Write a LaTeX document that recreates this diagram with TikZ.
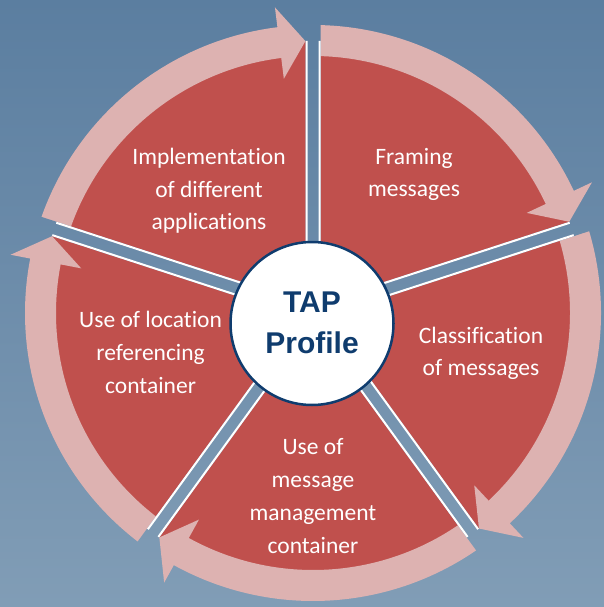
\documentclass[tikz,border=0pt]{standalone}
\usepackage{fontspec}
\usepackage{tikz}
\usetikzlibrary{calc}
\setmainfont{Carlito}[Ligatures=CommonOff]
\newfontfamily\tapfont{Liberation Sans}

\definecolor{bgtop}{HTML}{5B7EA0}
\definecolor{bgbottom}{HTML}{819DB6}
\definecolor{sectorred}{HTML}{C0504D}
\definecolor{ringpink}{HTML}{DDB2B1}
\definecolor{tapblue}{HTML}{0F3C6E}

\tikzset{
    bgshade/.style={top color=bgtop, bottom color=bgbottom},
    ringarrow/.style={fill=ringpink},
    gapline/.style={white, line width=2pt},
    sectorlabel/.style={text=white, align=center, font=\fontsize{23.5}{32.7}\selectfont},
}

\begin{document}
\begin{tikzpicture}[x=1pt, y=1pt]
    \useasboundingbox (0,0) rectangle (604,-607);
    \shade[bgshade] (0,0) rectangle (604,-607);

    \begin{scope}[shift={(313,-313)}]
        % red pie
        \fill[sectorred] (0,0) circle[radius=272];

        % pink arrows, clockwise
        \fill[ringarrow] (162:288) arc[start angle=162, end angle=97.1, radius=288] -- (97.1:308) -- (91.6:272) -- (97.1:236) -- (97.1:257) arc[start angle=97.1, end angle=162, radius=257] -- cycle;
        \fill[ringarrow] (90:288) arc[start angle=90, end angle=25.1, radius=288] -- (25.1:308) -- (19.6:272) -- (25.1:236) -- (25.1:257) arc[start angle=25.1, end angle=90, radius=257] -- cycle;
        \fill[ringarrow] (18:288) arc[start angle=18, end angle=-46.9, radius=288] -- (-46.9:308) -- (-52.4:272) -- (-46.9:236) -- (-46.9:257) arc[start angle=-46.9, end angle=18, radius=257] -- cycle;
        \fill[ringarrow] (-54:288) arc[start angle=-54, end angle=-118.9, radius=288] -- (-118.9:308) -- (-124.4:272) -- (-118.9:236) -- (-118.9:257) arc[start angle=-118.9, end angle=-54, radius=257] -- cycle;
        \fill[ringarrow] (-126:288) arc[start angle=-126, end angle=-190.9, radius=288] -- (-190.9:308) -- (-196.4:272) -- (-190.9:236) -- (-190.9:257) arc[start angle=-190.9, end angle=-126, radius=257] -- cycle;

        % gaps between the sectors
        \begin{scope}
            \clip (0:7.5) -- ($(90:315)+(0:7.5)$) -- ($(90:315)+(180:7.5)$) -- (180:7.5) -- cycle
                  (-72:7.5) -- ($(18:315)+(-72:7.5)$) -- ($(18:315)+(108:7.5)$) -- (108:7.5) -- cycle
                  (-144:7.5) -- ($(-54:315)+(-144:7.5)$) -- ($(-54:315)+(36:7.5)$) -- (36:7.5) -- cycle
                  (-216:7.5) -- ($(-126:315)+(-216:7.5)$) -- ($(-126:315)+(-36:7.5)$) -- (-36:7.5) -- cycle
                  (72:7.5) -- ($(162:315)+(72:7.5)$) -- ($(162:315)+(252:7.5)$) -- (252:7.5) -- cycle;
            \shade[bgshade] (-313,313) rectangle (291,-294);
        \end{scope}
        \draw[gapline] (0:6.5) -- ($(90:272)+(0:6.5)$) (180:6.5) -- ($(90:272)+(180:6.5)$)
                       (-72:6.5) -- ($(18:272)+(-72:6.5)$) (108:6.5) -- ($(18:272)+(108:6.5)$)
                       (-144:6.5) -- ($(-54:272)+(-144:6.5)$) (36:6.5) -- ($(-54:272)+(36:6.5)$)
                       (-216:6.5) -- ($(-126:272)+(-216:6.5)$) (-36:6.5) -- ($(-126:272)+(-36:6.5)$)
                       (72:6.5) -- ($(162:272)+(72:6.5)$) (252:6.5) -- ($(162:272)+(252:6.5)$);
    \end{scope}

    % centre
    \node[circle, fill=white, draw=tapblue, line width=2.5pt, minimum size=163pt, inner sep=0pt] (tap) at (312,-323.5) {};
    \node[text=tapblue, align=center, font=\tapfont\bfseries\fontsize{30}{41}\selectfont] (tapname) at (312,-323) {TAP\\Profile};

    % sector labels
    \node[sectorlabel] (impl) at (209,-191) {Implementation\\of different\\applications};
    \node[sectorlabel] (framing) at (414,-174.5) {Framing\\messages};
    \node[sectorlabel] (classif) at (481,-353.5) {Classification\\of messages};
    \node[sectorlabel] (mgmt) at (313,-496) {Use of\\message\\management\\container};
    \node[sectorlabel] (location) at (150.6,-352.5) {Use of location\\referencing\\container};
\end{tikzpicture}
\end{document}
